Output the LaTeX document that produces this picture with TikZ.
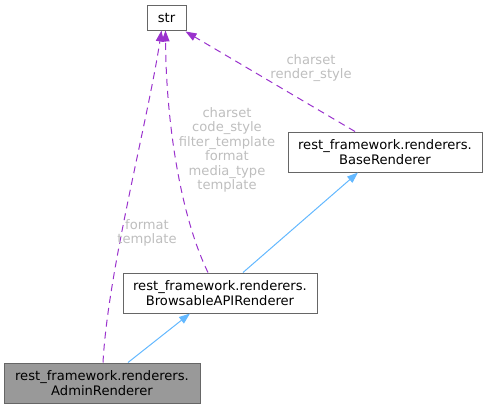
\documentclass[tikz,border=0pt]{standalone}
\usepackage{fontspec}
\setmainfont{DejaVu Sans}
\usetikzlibrary{arrows.meta}
\definecolor{boxedge}{HTML}{666666}
\definecolor{selfill}{HTML}{999999}
\definecolor{usepurple}{HTML}{9A32CD}
\definecolor{inhblue}{HTML}{63B8FF}
\definecolor{labgrey}{HTML}{BEBEBE}
\tikzset{
  cls/.style={rectangle,draw=boxedge,line width=1pt,fill=white,inner sep=0,minimum height=40pt,minimum width=194pt,
              align=center,font=\fontsize{13.1}{14.5}\selectfont},
  selcls/.style={cls,fill=selfill,minimum width=196pt},
  % usage relations: dashed purple, arrow points at the member type
  uses/.style={draw=usepurple,line width=1pt,dash pattern=on 7pt off 5pt,-{Triangle[length=11pt,width=8pt,fill=usepurple]}},
  % inheritance: solid blue, arrow points at the base class
  inherits/.style={draw=inhblue,line width=1pt,-{Triangle[length=11pt,width=8pt,fill=inhblue]}},
  elab/.style={text=labgrey,align=center,inner sep=0,font=\fontsize{13.1}{14.5}\selectfont},
}
\begin{document}
\begin{tikzpicture}[x=1pt,y=-1pt]
  \useasboundingbox (0,0) rectangle (488,408);
  % the classes
  \node[cls,minimum width=39pt,minimum height=25pt] (str) at (166.5,17.5) {str};
  \node[cls] (base) at (385,152) {rest\_framework.renderers.\\BaseRenderer};
  \node[cls] (browsable) at (220,293) {rest\_framework.renderers.\\BrowsableAPIRenderer};
  \node[selcls] (admin) at (102,383) {rest\_framework.renderers.\\AdminRenderer};
  % inheritance
  \draw[inherits] ([xshift=23pt]browsable.north) -- ([xshift=-27pt]base.south);
  \draw[inherits] ([xshift=26pt]admin.north) -- ([xshift=-30pt]browsable.south);
  % members of type str
  \draw[uses] ([xshift=-30pt]base.north) -- ([xshift=19pt,yshift=-1pt]str.south);
  \draw[uses] ([xshift=-12pt]browsable.north) .. controls (180,215) and (166,120) .. ([xshift=-1pt]str.south);
  \draw[uses] ([xshift=1pt]admin.north) .. controls (108,270) and (148,120) .. ([xshift=-5pt]str.south);
  \node[elab] (lbase) at (311,68) {charset\\render\_style};
  \node[elab] (lbrowsable) at (227,150) {charset\\code\_style\\filter\_template\\format\\media\_type\\template};
  \node[elab] (ladmin) at (147,233) {format\\template};
\end{tikzpicture}
\end{document}
